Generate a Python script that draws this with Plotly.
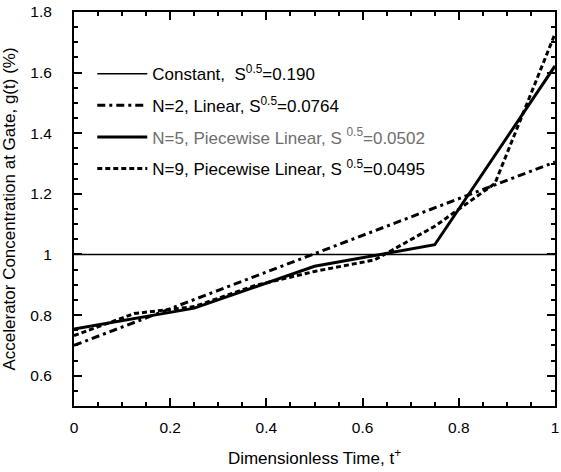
import plotly.graph_objects as go

# Data
t_const = [0.0, 1.0]
g_const = [1.0, 1.0]

t_n2 = [0.0, 1.0]
g_n2 = [0.70, 1.305]

t_n5 = [0.0, 0.25, 0.5, 0.75, 1.0]
g_n5 = [0.754, 0.823, 0.961, 1.032, 1.622]

t_n9 = [0.0, 0.125, 0.25, 0.375, 0.5, 0.625, 0.75, 0.875, 1.0]
g_n9 = [0.732, 0.805, 0.828, 0.897, 0.944, 0.982, 1.093, 1.234, 1.728]

names = [
    "Constant,  S<sup>0.5</sup>=0.190",
    "N=2, Linear, S<sup>0.5</sup>=0.0764",
    '<span style="color:#6e6e6e">N=5, Piecewise Linear, S <sup>0.5</sup>=0.0502</span>',
    "N=9, Piecewise Linear, S <sup>0.5</sup>=0.0495",
]

FONT = "Liberation Sans, Arial, sans-serif"

fig = go.Figure()
fig.add_trace(go.Scatter(x=t_const, y=g_const, mode="lines", name=names[0],
                         legendgroup="a", line=dict(color="black", width=1.6)))
fig.add_trace(go.Scatter(x=t_n2, y=g_n2, mode="lines", name=names[1],
                         legendgroup="b", line=dict(color="black", width=3, dash="8px,4px,3px,4px")))
fig.add_trace(go.Scatter(x=t_n5, y=g_n5, mode="lines", name=names[2],
                         legendgroup="c", line=dict(color="black", width=3)))
fig.add_trace(go.Scatter(x=t_n9, y=g_n9, mode="lines", name=names[3],
                         legendgroup="d", line=dict(color="black", width=3, dash="5px,3px")))

axis_common = dict(
    showline=True, linecolor="black", linewidth=2, mirror="ticks",
    ticks="inside", ticklen=8, tickwidth=2, tickcolor="black",
    showgrid=False, zeroline=False,
    tickfont=dict(family=FONT, size=15.5, color="black"),
    minor=dict(ticks="inside", ticklen=4, tickwidth=2, tickcolor="black", dtick=0.05, showgrid=False),
    ticklabeloverflow="allow",
)

fig.update_xaxes(range=[0, 1], dtick=0.2, tick0=0,
                 title=dict(text="Dimensionless Time, t<sup>+</sup>", font=dict(family=FONT, size=17, color="black"), standoff=18),
                 ticklabelstandoff=6, **axis_common)
fig.update_yaxes(range=[0.5, 1.8], dtick=0.2, tick0=0,
                 title=dict(text="Accelerator Concentration at Gate, g(t) (%)", font=dict(family=FONT, size=17, color="black"), standoff=11),
                 ticklabelstandoff=17, **axis_common)

fig.update_layout(
    width=561, height=472,
    margin=dict(l=74, r=2, t=12, b=66),
    paper_bgcolor="white", plot_bgcolor="white",
    font=dict(family=FONT, size=15, color="black"),
    legend=dict(x=0.038, y=0.888, xanchor="left", yanchor="top",
                bgcolor="rgba(0,0,0,0)", borderwidth=0,
                font=dict(family=FONT, size=17, color="black"),
                tracegroupgap=6.5, itemwidth=50),
)

fig.write_html("out.html", config={"displayModeBar": False},
               post_script="document.body.style.margin='0';")
